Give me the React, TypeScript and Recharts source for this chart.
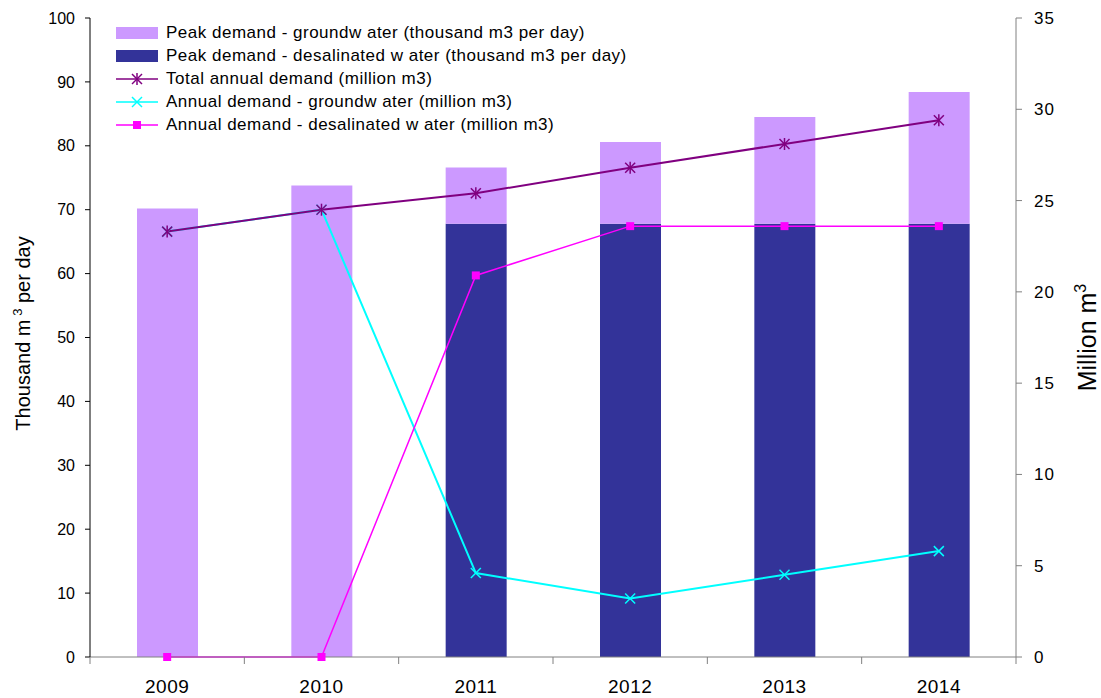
import React from "react";
import {
  ComposedChart,
  Bar,
  Line,
  XAxis,
  YAxis,
} from "recharts";

const years = ["2009", "2010", "2011", "2012", "2013", "2014"];
// thousand m3 per day (stacked bars)
const peakDesalinated = [0, 0, 67.8, 67.8, 67.8, 67.8];
const peakGroundwater = [70.2, 73.8, 8.8, 12.8, 16.7, 20.6];
// million m3
const totalAnnual = [23.3, 24.5, 25.4, 26.8, 28.1, 29.4];
const annualGroundwater = [23.3, 24.5, 4.6, 3.2, 4.5, 5.8];
const annualDesalinated = [0, 0, 20.9, 23.6, 23.6, 23.6];

const leftTicks = [0, 10, 20, 30, 40, 50, 60, 70, 80, 90, 100];
const rightTicks = [0, 5, 10, 15, 20, 25, 30, 35];

const legendItems = [
  { label: "Peak demand - groundw ater (thousand m3 per day)", kind: "bar", color: "#CC99FF" },
  { label: "Peak demand - desalinated w ater (thousand m3 per day)", kind: "bar", color: "#333399" },
  { label: "Total annual demand (million m3)", kind: "star", color: "#800080" },
  { label: "Annual demand - groundw ater (million m3)", kind: "cross", color: "#00FFFF" },
  { label: "Annual demand - desalinated w ater (million m3)", kind: "square", color: "#FF00FF" },
];

const data = years.map((year, i) => ({
  year,
  peakDesalinated: peakDesalinated[i],
  peakGroundwater: peakGroundwater[i],
  totalAnnual: totalAnnual[i],
  annualGroundwater: annualGroundwater[i],
  annualDesalinated: annualDesalinated[i],
}));

const W = 1101;
const H = 698;
const LEFT_W = 90;
const RIGHT_W = 85;
const BAND = (W - LEFT_W - RIGHT_W) / years.length;
const FONT = "'Liberation Sans', Arial, sans-serif";

function Marker({ kind, cx, cy, color }: { kind: string; cx: number; cy: number; color: string }) {
  const r = 5;
  if (kind === "star") {
    return (
      <g stroke={color} strokeWidth={1.5}>
        <line x1={cx - r} y1={cy - r} x2={cx + r} y2={cy + r} />
        <line x1={cx - r} y1={cy + r} x2={cx + r} y2={cy - r} />
        <line x1={cx} y1={cy - r - 1} x2={cx} y2={cy + r + 1} />
      </g>
    );
  }
  if (kind === "cross") {
    return (
      <g stroke={color} strokeWidth={1.5}>
        <line x1={cx - r} y1={cy - r} x2={cx + r} y2={cy + r} />
        <line x1={cx - r} y1={cy + r} x2={cx + r} y2={cy - r} />
      </g>
    );
  }
  return <rect x={cx - 4} y={cy - 4} width={8} height={8} fill={color} />;
}

const dotFor = (kind: string, color: string) => (props: any) => {
  const { cx, cy, index } = props;
  if (cx == null || cy == null) return <g key={index} />;
  return <Marker key={index} kind={kind} cx={cx} cy={cy} color={color} />;
};

function XTick(props: any) {
  const { x, y, payload, index } = props;
  const half = BAND / 2;
  return (
    <g>
      <line x1={x - half} y1={y} x2={x - half} y2={y + 7} stroke="#808080" />
      {index === years.length - 1 && (
        <line x1={x + half} y1={y} x2={x + half} y2={y + 7} stroke="#808080" />
      )}
      <text
        x={x}
        y={y + 36}
        textAnchor="middle"
        fontSize={19}
        letterSpacing={0.5}
        fill="#000"
        fontFamily={FONT}
      >
        {payload.value}
      </text>
    </g>
  );
}

function LeftTitle(props: any) {
  const { viewBox } = props;
  const cy = viewBox.y + viewBox.height / 2 - 4;
  const cx = 30;
  return (
    <text
      x={cx}
      y={cy}
      transform={`rotate(-90 ${cx} ${cy})`}
      textAnchor="middle"
      fontSize={20}
      fontFamily={FONT}
      fill="#000"
    >
      Thousand m
      <tspan dy={-8} fontSize={13}> 3</tspan>
      <tspan dy={8}> per day</tspan>
    </text>
  );
}

function RightTitle(props: any) {
  const { viewBox } = props;
  const cy = viewBox.y + viewBox.height / 2;
  const cx = 1096;
  return (
    <text
      x={cx}
      y={cy}
      transform={`rotate(-90 ${cx} ${cy})`}
      textAnchor="middle"
      fontSize={25}
      fontFamily={FONT}
      fill="#000"
    >
      Million m
      <tspan dy={-10} fontSize={16}>3</tspan>
    </text>
  );
}

function LegendBox() {
  return (
    <div
      style={{
        position: "absolute",
        left: 116,
        top: 21,
        fontFamily: FONT,
        fontSize: 17,
        letterSpacing: 0.5,
        color: "#000",
        lineHeight: "23px",
      }}
    >
      {legendItems.map((item) => (
        <div key={item.label} style={{ display: "flex", alignItems: "center", height: 23 }}>
          <svg width={42} height={14} style={{ marginRight: 8 }}>
            {item.kind === "bar" ? (
              <rect x={0} y={1} width={42} height={12} fill={item.color} />
            ) : (
              <>
                <line x1={0} y1={7} x2={42} y2={7} stroke={item.color} strokeWidth={1.5} />
                <Marker kind={item.kind} cx={21} cy={7} color={item.color} />
              </>
            )}
          </svg>
          <span style={{ whiteSpace: "nowrap" }}>{item.label}</span>
        </div>
      ))}
    </div>
  );
}

export default function App() {
  return (
    <div style={{ position: "absolute", left: 0, top: 0, width: W, height: H, background: "#fff" }}>
      <ComposedChart
        width={W}
        height={H}
        data={data}
        margin={{ top: 18, right: 0, bottom: 0, left: 0 }}
        barSize={61}
        style={{ fontFamily: FONT }}
      >
        <XAxis
          dataKey="year"
          height={41}
          tickLine={false}
          tickSize={0}
          tickMargin={0}
          tick={<XTick />}
          axisLine={{ stroke: "#808080" }}
          interval={0}
        />
        <YAxis
          yAxisId="left"
          width={LEFT_W}
          domain={[0, 100]}
          ticks={leftTicks}
          interval={0}
          tickSize={5}
          tickMargin={10}
          axisLine={{ stroke: "#000" }}
          tickLine={{ stroke: "#000" }}
          tick={{ fontSize: 16, fill: "#000", fontFamily: FONT }}
          label={<LeftTitle />}
        />
        <YAxis
          yAxisId="right"
          orientation="right"
          width={RIGHT_W}
          domain={[0, 35]}
          ticks={rightTicks}
          interval={0}
          tickSize={6}
          tickMargin={12}
          axisLine={{ stroke: "#808080" }}
          tickLine={{ stroke: "#808080" }}
          tick={{ fontSize: 17, fill: "#000", fontFamily: FONT, letterSpacing: 1 }}
          label={<RightTitle />}
        />
        <Bar
          yAxisId="left"
          dataKey="peakDesalinated"
          stackId="peak"
          fill="#333399"
          isAnimationActive={false}
        />
        <Bar
          yAxisId="left"
          dataKey="peakGroundwater"
          stackId="peak"
          fill="#CC99FF"
          isAnimationActive={false}
        />
        <Line
          yAxisId="right"
          dataKey="annualGroundwater"
          stroke="#00FFFF"
          strokeWidth={2}
          dot={dotFor("cross", "#00FFFF")}
          activeDot={false}
          isAnimationActive={false}
        />
        <Line
          yAxisId="right"
          dataKey="totalAnnual"
          stroke="#800080"
          strokeWidth={2}
          dot={dotFor("star", "#800080")}
          activeDot={false}
          isAnimationActive={false}
        />
        <Line
          yAxisId="right"
          dataKey="annualDesalinated"
          stroke="#FF00FF"
          strokeWidth={1.5}
          dot={dotFor("square", "#FF00FF")}
          activeDot={false}
          isAnimationActive={false}
        />
      </ComposedChart>
      <LegendBox />
    </div>
  );
}
